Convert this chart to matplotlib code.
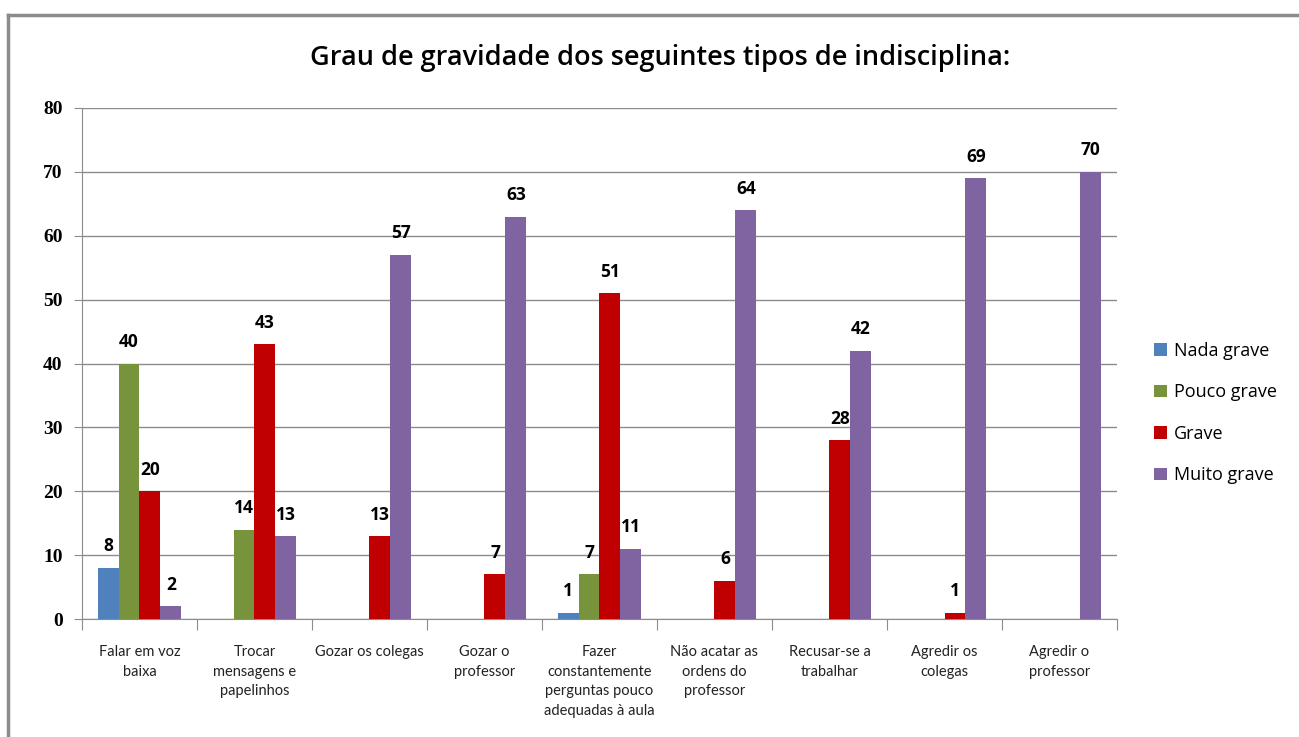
import numpy as np
import matplotlib.pyplot as plt
from matplotlib.lines import Line2D

categories = [
    "Falar em voz\nbaixa",
    "Trocar\nmensagens e\npapelinhos",
    "Gozar os colegas",
    "Gozar o\nprofessor",
    "Fazer\nconstantemente\nperguntas pouco\nadequadas à aula",
    "Não acatar as\nordens do\nprofessor",
    "Recusar-se a\ntrabalhar",
    "Agredir os\ncolegas",
    "Agredir o\nprofessor",
]
series_names = ["Nada grave", "Pouco grave", "Grave", "Muito grave"]
nada = [8, None, None, None, 1, None, None, None, None]
pouco = [40, 14, None, None, 7, None, None, None, None]
grave = [20, 43, 13, 7, 51, 6, 28, 1, None]
muito = [2, 13, 57, 63, 11, 64, 42, 69, 70]
colors = ["#4F81BD", "#77933C", "#C00000", "#8064A2"]

fig = plt.figure(figsize=(12.99, 7.37), dpi=100)
ax = fig.add_axes([0.0631, 0.160, 0.7968, 0.6935])

x = np.arange(len(categories))
w = 1 / 5.5
for i, (vals, name, c) in enumerate(zip([nada, pouco, grave, muito], series_names, colors)):
    h = [v if v is not None else 0 for v in vals]
    bars = ax.bar(x + (i - 1.5) * w, h, width=w, color=c, label=name, zorder=3)
    labels = [str(v) if v is not None else "" for v in vals]
    ax.bar_label(bars, labels=labels, padding=9, fontsize=12.5, fontweight="bold",
                 family="Open Sans", zorder=4)

ax.set_xlim(-0.5, len(categories) - 0.5)
ax.set_ylim(0, 80)
ax.set_yticks(range(0, 81, 10))
ax.yaxis.grid(True, color="#8c8c8c", linewidth=1, zorder=0)
ax.set_axisbelow(True)
for s in ["top", "right"]:
    ax.spines[s].set_visible(False)
for s in ["left", "bottom"]:
    ax.spines[s].set_color("#8c8c8c")
ax.tick_params(axis="y", length=6, color="#8c8c8c", labelsize=14, pad=8)
for lab in ax.get_yticklabels():
    lab.set_family("Liberation Serif")
    lab.set_fontweight("bold")

ax.set_xticks(np.arange(-0.5, len(categories), 1), minor=False)
ax.set_xticklabels([])
ax.tick_params(axis="x", length=8, color="#8c8c8c")
ax.set_xticks(x, minor=True)
ax.set_xticklabels(categories, minor=True, fontsize=10.5, family="Lato", color="#222222",
                   linespacing=1.5, va="top")
ax.tick_params(axis="x", which="minor", length=0, pad=19)

fig.text(0.508, 0.921, "Grau de gravidade dos seguintes tipos de indisciplina:",
         ha="center", va="center", fontsize=19.5, family="Open Sans", fontweight="semibold")

ax.legend(loc="center left", bbox_to_anchor=(1.02, 0.403), frameon=False,
          prop={"family": "Open Sans", "size": 13}, handlelength=0.7, handleheight=0.7,
          handletextpad=0.4, labelspacing=1.3)

# outer chart border (left and top edges visible)
fig.add_artist(Line2D([0.0065, 0.0065], [0, 0.9795], color="#8c8c8c", linewidth=2.5,
                      transform=fig.transFigure))
fig.add_artist(Line2D([0.0065, 1], [0.9795, 0.9795], color="#8c8c8c", linewidth=2.5,
                      transform=fig.transFigure))

fig.savefig("out.png", dpi=100)
